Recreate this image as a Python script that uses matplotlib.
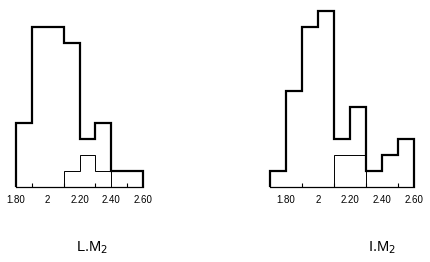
import matplotlib
matplotlib.use("Agg")
from matplotlib import pyplot as plt
import numpy as np

plt.rcParams['font.family'] = ['Liberation Sans', 'DejaVu Sans']

# Left panel (L.M2): bins of 0.1 from 1.80 to 2.60
left_edges = [1.8, 1.9, 2.0, 2.1, 2.2, 2.3, 2.4, 2.5, 2.6]
left_counts = [4, 10, 10, 9, 3, 4, 1, 1]
left_inner_edges = [2.1, 2.2, 2.3, 2.4]
left_inner_counts = [1, 2, 1]
left_tick_pos = [1.8, 2.0, 2.2, 2.4, 2.6]
left_tick_labels = ["1.80", "2", "2.20", "2.40", "2.60"]
left_title = "L.M$_2$"

# Right panel (I.M2): bins of 0.1 from 1.70 to 2.60
right_edges = [1.7, 1.8, 1.9, 2.0, 2.1, 2.2, 2.3, 2.4, 2.5, 2.6]
right_counts = [1, 6, 10, 11, 3, 5, 1, 2, 3]
right_inner_edges = [2.1, 2.2, 2.3]
right_inner_counts = [2, 2]
right_tick_pos = [1.8, 2.0, 2.2, 2.4, 2.6]
right_tick_labels = ["1.80", "2", "2.20", "2.40", "2.60"]
right_title = "I.M$_2$"


def draw_panel(ax, edges, counts, inner_edges, inner_counts, tick_pos, tick_labels, title, title_x):
    ax.stairs(counts, edges, baseline=0, color="black", linewidth=1.6, clip_on=False)
    ax.stairs(inner_counts, inner_edges, baseline=0, color="black", linewidth=0.7, clip_on=False)
    ax.plot([edges[0], edges[-1]], [0, 0], color="black", linewidth=0.9, clip_on=False)

    ax.set_xlim(edges[0], edges[-1])
    ax.set_ylim(0, 11.5)
    for s in ax.spines.values():
        s.set_visible(False)
    ax.set_yticks([])
    ax.set_xticks(tick_pos)
    ax.set_xticklabels(tick_labels, fontsize=7)
    ax.set_xticks(edges[1:-1], minor=True)
    ax.tick_params(axis="x", which="both", direction="in", length=3, width=0.8, pad=6)
    ax.tick_params(axis="x", which="major", length=0)
    ax.patch.set_visible(False)
    ax.text(title_x, -0.33, title, transform=ax.transAxes, ha="center", va="center",
            fontsize=10.5)


def main():
    fig = plt.figure(figsize=(4.3, 2.62), dpi=100)
    W, H = 430.0, 262.0
    base = (H - 187) / H
    height = 184 / H

    ax1 = fig.add_axes([15.7 / W, base, 127.6 / W, height])
    draw_panel(ax1, left_edges, left_counts, left_inner_edges, left_inner_counts,
               left_tick_pos, left_tick_labels, left_title, 0.6)

    ax2 = fig.add_axes([270 / W, base, 144 / W, height])
    draw_panel(ax2, right_edges, right_counts, right_inner_edges, right_inner_counts,
               right_tick_pos, right_tick_labels, right_title, 0.78)

    fig.savefig("out.png", dpi=100)


if __name__ == "__main__":
    main()
